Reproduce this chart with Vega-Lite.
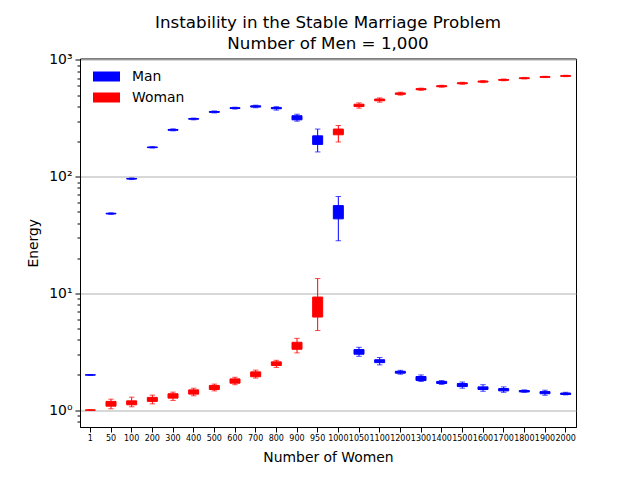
{
  "$schema": "https://vega.github.io/schema/vega-lite/v6.json",
  "width": 496,
  "height": 368.5,
  "autosize": {"type": "none"},
  "padding": {"left": 80, "top": 58.5, "right": 64, "bottom": 53.5},
  "title": {
    "text": ["Instability in the Stable Marriage Problem", "Number of Men = 1,000"],
    "fontSize": 16.7,
    "fontWeight": "normal",
    "color": "black",
    "lineHeight": 21,
    "offset": 0
  },
  "data": {
    "values": [
      {"n": "1", "sex": "Man", "lo": 1.99, "q1": 1.995, "med": 2.0, "q3": 2.005, "hi": 2.01},
      {"n": "50", "sex": "Man", "lo": 47.5, "q1": 48.0, "med": 48.3, "q3": 48.6, "hi": 49.0},
      {"n": "100", "sex": "Man", "lo": 94.5, "q1": 95.5, "med": 96, "q3": 96.5, "hi": 97.5},
      {"n": "200", "sex": "Man", "lo": 176, "q1": 177.5, "med": 178.5, "q3": 179.5, "hi": 181},
      {"n": "300", "sex": "Man", "lo": 247, "q1": 250, "med": 252, "q3": 254, "hi": 257},
      {"n": "400", "sex": "Man", "lo": 307, "q1": 311, "med": 313, "q3": 315, "hi": 318},
      {"n": "500", "sex": "Man", "lo": 352, "q1": 356, "med": 359, "q3": 362, "hi": 366},
      {"n": "600", "sex": "Man", "lo": 380, "q1": 384, "med": 387, "q3": 390, "hi": 394},
      {"n": "700", "sex": "Man", "lo": 390, "q1": 395, "med": 400, "q3": 405, "hi": 410},
      {"n": "800", "sex": "Man", "lo": 372, "q1": 382, "med": 387, "q3": 392, "hi": 398},
      {"n": "900", "sex": "Man", "lo": 299, "q1": 307, "med": 321, "q3": 333, "hi": 343},
      {"n": "950", "sex": "Man", "lo": 163, "q1": 189, "med": 208, "q3": 224, "hi": 256},
      {"n": "1000", "sex": "Man", "lo": 28.2, "q1": 43.5, "med": 49, "q3": 56.5, "hi": 67.5},
      {"n": "1050", "sex": "Man", "lo": 2.89, "q1": 3.01, "med": 3.16, "q3": 3.3, "hi": 3.45},
      {"n": "1100", "sex": "Man", "lo": 2.44, "q1": 2.55, "med": 2.62, "q3": 2.7, "hi": 2.82},
      {"n": "1200", "sex": "Man", "lo": 2.03, "q1": 2.07, "med": 2.11, "q3": 2.15, "hi": 2.19},
      {"n": "1300", "sex": "Man", "lo": 1.76, "q1": 1.79, "med": 1.87, "q3": 1.94, "hi": 2.0},
      {"n": "1400", "sex": "Man", "lo": 1.66, "q1": 1.69, "med": 1.72, "q3": 1.76, "hi": 1.79},
      {"n": "1500", "sex": "Man", "lo": 1.54, "q1": 1.59, "med": 1.64, "q3": 1.69, "hi": 1.74},
      {"n": "1600", "sex": "Man", "lo": 1.45, "q1": 1.5, "med": 1.54, "q3": 1.58, "hi": 1.65},
      {"n": "1700", "sex": "Man", "lo": 1.42, "q1": 1.46, "med": 1.5, "q3": 1.53, "hi": 1.58},
      {"n": "1800", "sex": "Man", "lo": 1.42, "q1": 1.43, "med": 1.45, "q3": 1.47, "hi": 1.49},
      {"n": "1900", "sex": "Man", "lo": 1.34, "q1": 1.38, "med": 1.41, "q3": 1.44, "hi": 1.48},
      {"n": "2000", "sex": "Man", "lo": 1.35, "q1": 1.36, "med": 1.38, "q3": 1.4, "hi": 1.42},
      {"n": "1", "sex": "Woman", "lo": 0.998, "q1": 0.999, "med": 1.0, "q3": 1.001, "hi": 1.002},
      {"n": "50", "sex": "Woman", "lo": 1.026, "q1": 1.08, "med": 1.13, "q3": 1.187, "hi": 1.24},
      {"n": "100", "sex": "Woman", "lo": 1.067, "q1": 1.11, "med": 1.154, "q3": 1.2, "hi": 1.29},
      {"n": "200", "sex": "Woman", "lo": 1.13, "q1": 1.187, "med": 1.234, "q3": 1.284, "hi": 1.343},
      {"n": "300", "sex": "Woman", "lo": 1.21, "q1": 1.266, "med": 1.325, "q3": 1.38, "hi": 1.425},
      {"n": "400", "sex": "Woman", "lo": 1.325, "q1": 1.37, "med": 1.434, "q3": 1.49, "hi": 1.54},
      {"n": "500", "sex": "Woman", "lo": 1.46, "q1": 1.5, "med": 1.56, "q3": 1.626, "hi": 1.67},
      {"n": "600", "sex": "Woman", "lo": 1.65, "q1": 1.7, "med": 1.78, "q3": 1.85, "hi": 1.91},
      {"n": "700", "sex": "Woman", "lo": 1.88, "q1": 1.93, "med": 2.03, "q3": 2.125, "hi": 2.2},
      {"n": "800", "sex": "Woman", "lo": 2.32, "q1": 2.41, "med": 2.51, "q3": 2.59, "hi": 2.67},
      {"n": "900", "sex": "Woman", "lo": 3.09, "q1": 3.32, "med": 3.57, "q3": 3.81, "hi": 4.12},
      {"n": "950", "sex": "Woman", "lo": 4.8, "q1": 6.27, "med": 7.5, "q3": 9.3, "hi": 13.4},
      {"n": "1000", "sex": "Woman", "lo": 198, "q1": 228.6, "med": 242, "q3": 256, "hi": 274},
      {"n": "1050", "sex": "Woman", "lo": 387, "q1": 399, "med": 410, "q3": 418, "hi": 429},
      {"n": "1100", "sex": "Woman", "lo": 435, "q1": 447, "med": 455, "q3": 463, "hi": 473},
      {"n": "1200", "sex": "Woman", "lo": 500, "q1": 508, "med": 515, "q3": 522, "hi": 530},
      {"n": "1300", "sex": "Woman", "lo": 550, "q1": 556, "med": 562, "q3": 568, "hi": 574},
      {"n": "1400", "sex": "Woman", "lo": 585, "q1": 590, "med": 596, "q3": 602, "hi": 607},
      {"n": "1500", "sex": "Woman", "lo": 620, "q1": 626, "med": 632, "q3": 638, "hi": 644},
      {"n": "1600", "sex": "Woman", "lo": 640, "q1": 647, "med": 653, "q3": 660, "hi": 666},
      {"n": "1700", "sex": "Woman", "lo": 664, "q1": 670, "med": 675, "q3": 681, "hi": 687},
      {"n": "1800", "sex": "Woman", "lo": 688, "q1": 693, "med": 698, "q3": 704, "hi": 709},
      {"n": "1900", "sex": "Woman", "lo": 707, "q1": 711, "med": 716, "q3": 721, "hi": 725},
      {"n": "2000", "sex": "Woman", "lo": 720, "q1": 725, "med": 730, "q3": 735, "hi": 740}
    ]
  },
  "encoding": {
    "x": {
      "field": "n",
      "type": "ordinal",
      "sort": ["1","50","100","200","300","400","500","600","700","800","900","950","1000","1050","1100","1200","1300","1400","1500","1600","1700","1800","1900","2000"],
      "scale": {"type": "band", "paddingInner": 0, "paddingOuter": 0},
      "axis": {
        "title": "Number of Women",
        "labelAngle": 0,
        "labelOverlap": false,
        "labelFontSize": 8,
        "labelPadding": 2,
        "tickSize": 5,
        "titlePadding": 8
      }
    },
    "color": {
      "field": "sex",
      "type": "nominal",
      "scale": {"domain": ["Man", "Woman"], "range": ["#0000ff", "#ff0000"]},
      "legend": {"title": null}
    }
  },
  "layer": [
    {
      "mark": {"type": "bar", "size": 10, "strokeWidth": 1, "opacity": 1},
      "encoding": {
        "y": {
          "field": "q1",
          "type": "quantitative",
          "scale": {"type": "log", "domain": [0.716, 1030], "nice": false, "zero": false},
          "axis": {
            "orient": "left",
            "title": "Energy",
            "values": [1, 10, 100, 1000],
            "labelExpr": "datum.value == 1 ? '10⁰' : datum.value == 10 ? '10¹' : datum.value == 100 ? '10²' : '10³'",
            "grid": true,
            "gridColor": "#b0b0b0",
            "gridWidth": 1,
            "tickSize": 5,
            "labelPadding": 3,
            "labelFontSize": 13.9,
            "titlePadding": 8
          }
        },
        "y2": {"field": "q3"},
        "stroke": {"field": "sex", "type": "nominal", "scale": {"domain": ["Man", "Woman"], "range": ["#0000ff", "#ff0000"]}, "legend": null}
      }
    },
    {
      "mark": {"type": "rule", "strokeWidth": 1},
      "encoding": {
        "y": {"field": "lo", "type": "quantitative", "axis": null},
        "y2": {"field": "hi"}
      }
    },
    {
      "mark": {"type": "tick", "size": 5.5, "thickness": 1},
      "encoding": {
        "y": {"field": "lo", "type": "quantitative", "axis": null}
      }
    },
    {
      "mark": {"type": "tick", "size": 5.5, "thickness": 1},
      "encoding": {
        "y": {"field": "hi", "type": "quantitative", "axis": null}
      }
    },
    {
      "mark": {"type": "tick", "size": 10, "thickness": 1},
      "encoding": {
        "y": {
          "field": "med",
          "type": "quantitative",
          "axis": {
            "orient": "left",
            "title": null,
            "values": [0.8, 0.9, 2, 3, 4, 5, 6, 7, 8, 9, 20, 30, 40, 50, 60, 70, 80, 90, 200, 300, 400, 500, 600, 700, 800, 900],
            "labels": false,
            "grid": false,
            "domain": false,
            "tickSize": 3
          }
        }
      }
    }
  ],
  "resolve": {"axis": {"y": "independent"}},
  "config": {
    "font": "DejaVu Sans",
    "view": {"stroke": "black", "strokeWidth": 1},
    "axis": {
      "domainColor": "black",
      "tickColor": "black",
      "labelColor": "black",
      "titleColor": "black",
      "titleFontWeight": "normal",
      "titleFontSize": 13.9,
      "grid": false
    },
    "legend": {
      "orient": "none",
      "legendX": 13,
      "legendY": 11,
      "padding": 0,
      "clipHeight": 14,
      "rowPadding": 7,
      "labelFontSize": 13.9,
      "labelColor": "black",
      "labelOffset": 12,
      "symbolType": "M-1,-0.37H1V0.37H-1Z",
      "symbolSize": 729,
      "symbolStrokeWidth": 0,
      "symbolOpacity": 1
    }
  }
}
